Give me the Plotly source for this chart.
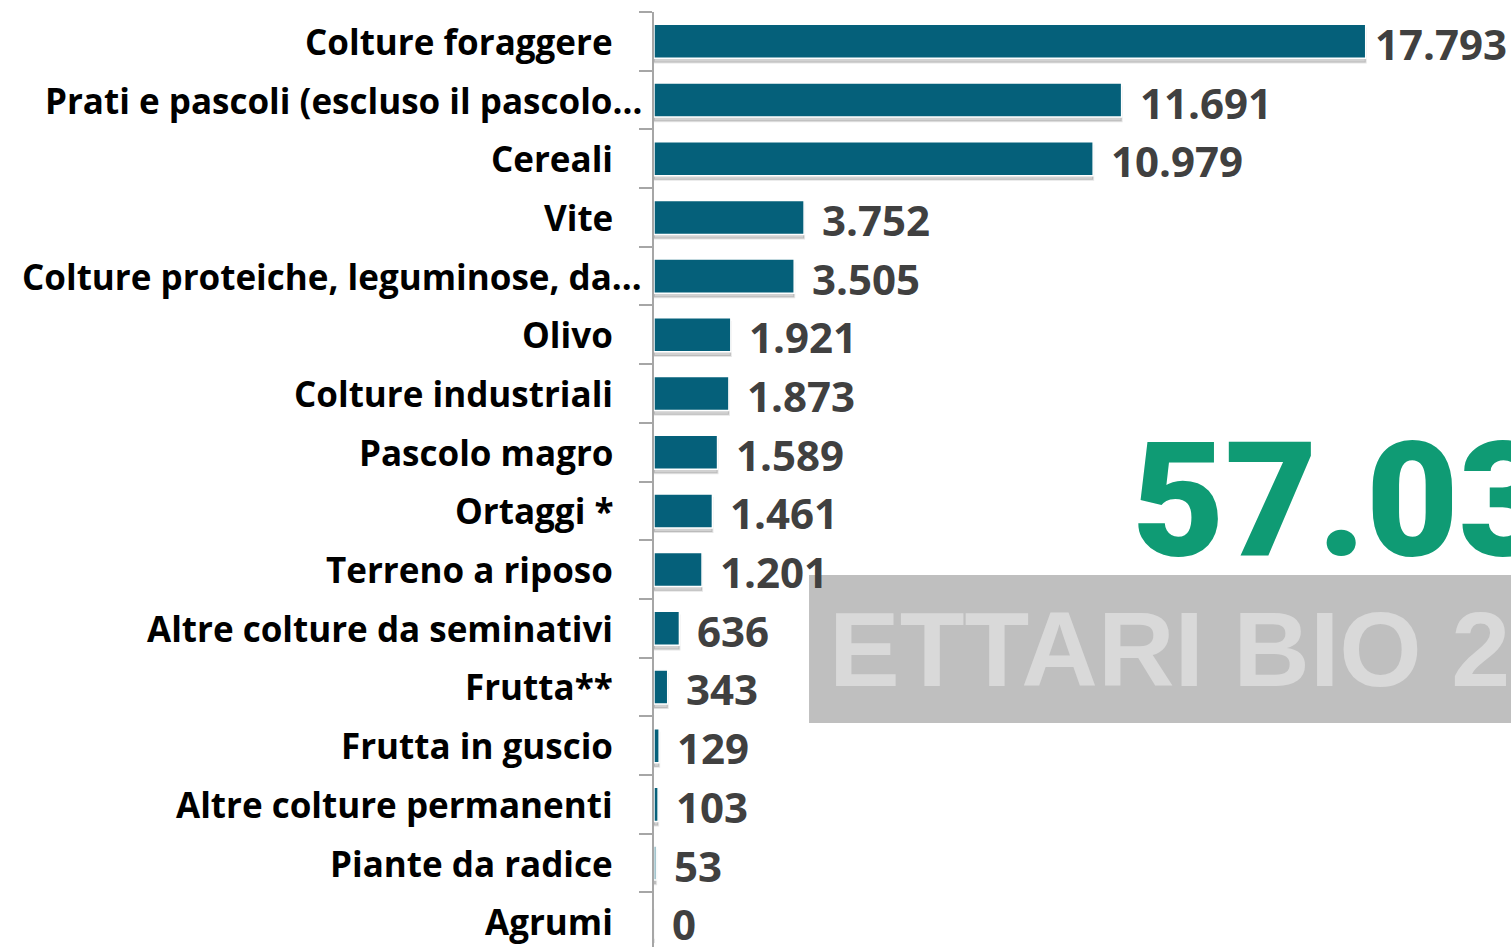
import plotly.graph_objects as go

categories = [
    "Colture foraggere",
    "Prati e pascoli (escluso il pascolo…",
    "Cereali",
    "Vite",
    "Colture proteiche, leguminose, da…",
    "Olivo",
    "Colture industriali",
    "Pascolo magro",
    "Ortaggi *",
    "Terreno a riposo",
    "Altre colture da seminativi",
    "Frutta**",
    "Frutta in guscio",
    "Altre colture permanenti",
    "Piante da radice",
    "Agrumi",
]
values = [17793, 11691, 10979, 3752, 3505, 1921, 1873, 1589, 1461, 1201, 636, 343, 129, 103, 53, 0]
big_number = "57.036"
banner_text = "ETTARI BIO 2022"

def fmt(v):
    return f"{v:,}".replace(",", ".")

BAR = "#05607A"
W = 0.58
LABEL_FONT = "Open Sans, Lato, sans-serif"

fig = go.Figure()
# soft shadow under bars
fig.add_trace(go.Bar(
    y=categories, x=values, orientation="h",
    width=W, offset=-W / 2 + 0.07,
    marker=dict(color="rgba(0,0,0,0.18)", line=dict(color="rgba(0,0,0,0.10)", width=2)),
    hoverinfo="skip", showlegend=False,
))
fig.add_trace(go.Bar(
    y=categories, x=values, orientation="h",
    width=W, offset=-W / 2,
    marker=dict(color=BAR, line=dict(color="white", width=1.5)),
    hoverinfo="skip", showlegend=False,
))

annotations = []
# category labels
for c in categories:
    annotations.append(dict(
        xref="paper", yref="y", x=0, y=c, xanchor="right", yanchor="middle",
        xshift=-10 if c.endswith("…") else -39, showarrow=False, text=c,
        font=dict(family=LABEL_FONT, size=35, color="#000000", weight="bold"),
    ))

# banner
fig.add_shape(type="rect", xref="paper", yref="paper",
              x0=0.1809, x1=1.2, y0=0.2396, y1=0.3979,
              fillcolor="#BFBFBF", line=dict(width=0), layer="above")
annotations.append(dict(
    xref="paper", yref="paper", x=0.2019, y=0.3188, xanchor="left", yanchor="middle",
    showarrow=False, text=banner_text,
    font=dict(family="Liberation Sans, Arial, sans-serif", size=106, color="#D9D9D9", weight="bold"),
))
annotations.append(dict(
    xref="paper", yref="paper", x=0.5554, y=0.478, xanchor="left", yanchor="middle",
    showarrow=False, text=big_number,
    font=dict(family="Roboto, Liberation Sans, sans-serif", size=160,
              color="#0F9B74", weight=900),
))

# value labels
vmax = max(values)
for c, v in zip(categories, values):
    annotations.append(dict(
        xref="x", yref="y", x=v, y=c, xanchor="left", yanchor="middle",
        xshift=7 if v > 0.8 * vmax else 16, yshift=-2, showarrow=False, text=fmt(v),
        font=dict(family=LABEL_FONT, size=42, color="#404040", weight="bold"),
    ))

fig.update_layout(
    width=1511, height=947,
    margin=dict(l=654, r=0, t=12, b=0),
    paper_bgcolor="white", plot_bgcolor="white",
    barmode="overlay",
    showlegend=False,
    annotations=annotations,
    xaxis=dict(range=[0, 21425], visible=False, fixedrange=True),
    yaxis=dict(
        type="category", range=[15.43, -0.5], showticklabels=False,
        showline=True, linecolor="#A6A6A6", linewidth=2,
        ticks="outside", tickson="boundaries", ticklen=13, tickcolor="#A6A6A6", tickwidth=1.5,
        showgrid=False, zeroline=False, fixedrange=True,
    ),
)

fig.write_html(
    "out.html",
    config={"displayModeBar": False},
    post_script="document.body.style.margin='0';document.body.style.overflow='hidden';",
)
